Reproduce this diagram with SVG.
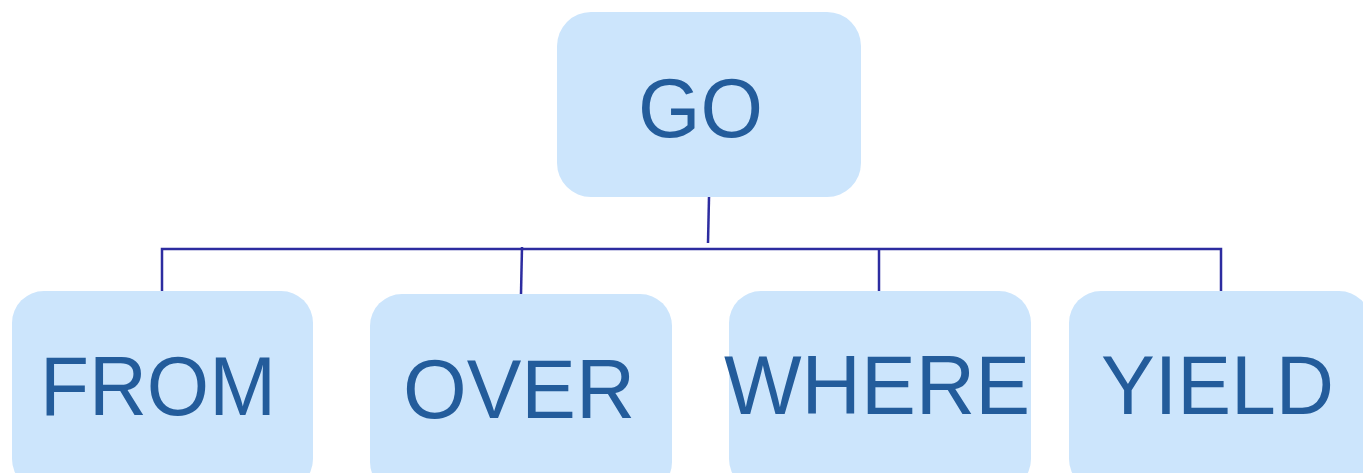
<svg xmlns="http://www.w3.org/2000/svg" width="1363" height="473" viewBox="0 0 1363 473">
<style>
.box{fill:#cce5fc;}
.lbl{font-family:"Liberation Sans",Arial,sans-serif;font-size:84px;fill:#235c9b;}
.con{fill:none;stroke:#2d2ca0;stroke-width:2.5;}
</style>
<rect width="1363" height="473" fill="#ffffff"/>
<g id="connectors">
<path class="con" d="M709 197 L708 243"/>
<path class="con" d="M162 291 L162 249 L1221 249 L1221 291"/>
<path class="con" d="M522 247 L521 294"/>
<path class="con" d="M879 249 L879 291"/>
</g>
<g id="node-go">
<rect class="box" x="557" y="12" width="304" height="185" rx="34"/>
<text class="lbl" x="638" y="137" textLength="125" lengthAdjust="spacingAndGlyphs">GO</text>
</g>
<g id="node-from">
<rect class="box" x="12" y="291" width="301" height="200" rx="32"/>
<text class="lbl" x="40" y="415" textLength="236" lengthAdjust="spacingAndGlyphs">FROM</text>
</g>
<g id="node-over">
<rect class="box" x="370" y="294" width="302" height="200" rx="32"/>
<text class="lbl" x="403" y="418" textLength="232" lengthAdjust="spacingAndGlyphs">OVER</text>
</g>
<g id="node-where">
<rect class="box" x="729" y="291" width="302" height="200" rx="32"/>
<text class="lbl" x="724" y="414" textLength="306" lengthAdjust="spacingAndGlyphs">WHERE</text>
</g>
<g id="node-yield">
<rect class="box" x="1069" y="291" width="302" height="200" rx="32"/>
<text class="lbl" x="1101" y="414" textLength="233" lengthAdjust="spacingAndGlyphs">YIELD</text>
</g>
</svg>
